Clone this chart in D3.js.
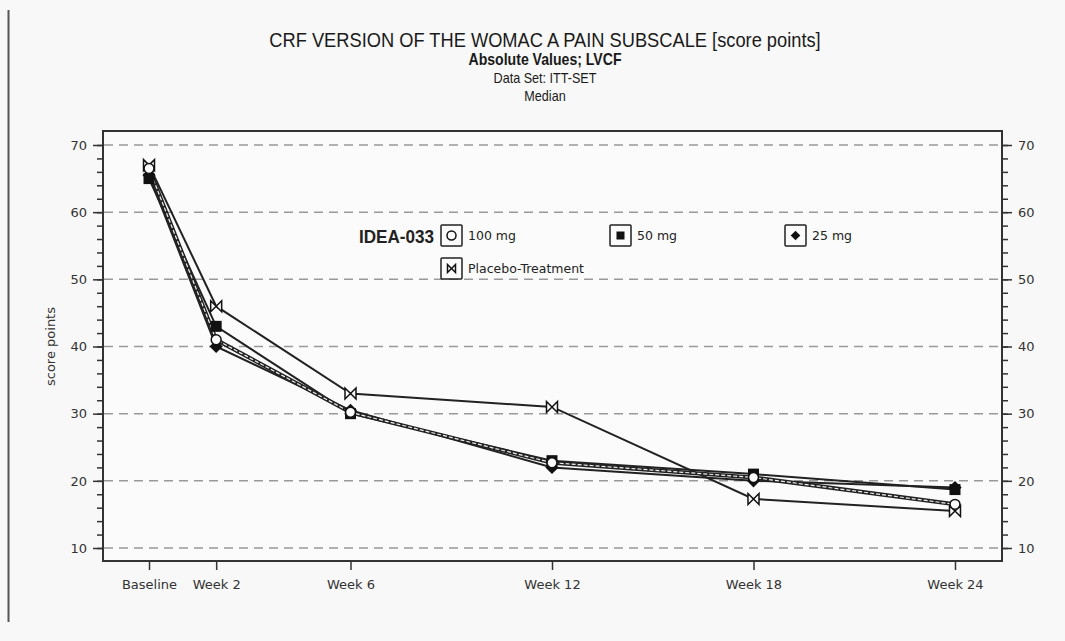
<!DOCTYPE html>
<html>
<head>
<meta charset="utf-8">
<script src="https://cdn.jsdelivr.net/npm/d3@7"></script>
<style>
  body { margin: 0; background: #f8f8f8; }
  svg { display: block; font-family: "DejaVu Sans", sans-serif; }
</style>
</head>
<body>
<script>
// visits in weeks, their labels and medians per group
var weeks = [0, 2, 6, 12, 18, 24];
var visitLabels = ["Baseline", "Week 2", "Week 6", "Week 12", "Week 18", "Week 24"];
var mg100 = [66.5, 41, 30.2, 22.7, 20.5, 16.5];
var mg50 = [65, 43, 30, 23, 21, 18.7];
var mg25 = [65.5, 40, 30.5, 22, 20, 19];
var placebo = [67, 46, 33, 31, 17.3, 15.5];
var yTicks = [10, 20, 30, 40, 50, 60, 70];

var w = 1065, h = 641,
	pl = 103, pr = 1002, pt = 131, pb = 561;

var svg = d3.select("body").append("svg")
	.attr("width", w)
	.attr("height", h);

svg.append("line")
	.attr("x1", 8.5).attr("x2", 8.5)
	.attr("y1", 10).attr("y2", 622)
	.attr("stroke", "#555").attr("stroke-width", 2);

// titles (narrow look: regular font squeezed horizontally)
var titles = [
	{ t: "CRF VERSION OF THE WOMAC A PAIN SUBSCALE [score points]", y: 47, size: 21, sx: 0.87, bold: false },
	{ t: "Absolute Values; LVCF", y: 65, size: 16, sx: 0.88, bold: true },
	{ t: "Data Set: ITT-SET", y: 83, size: 14, sx: 0.9, bold: false },
	{ t: "Median", y: 101, size: 14, sx: 0.9, bold: false }
];
titles.forEach(function(d) {
	svg.append("text")
		.attr("transform", "translate(545," + d.y + ") scale(" + d.sx + ",1)")
		.attr("text-anchor", "middle")
		.style("font-family", "'Liberation Sans', Arial, sans-serif")
		.style("font-size", d.size + "px")
		.style("font-weight", d.bold ? "bold" : "normal")
		.attr("fill", "#1a1a1a")
		.text(d.t);
});

var x = d3.scaleLinear().domain([-1.37, 25.4]).range([pl, pr]);
var y = d3.scaleLinear().domain([10, 70]).range([548, 145]);

// frame
svg.append("rect")
	.attr("x", pl).attr("y", pt)
	.attr("width", pr - pl).attr("height", pb - pt)
	.attr("fill", "#fbfbfb").attr("stroke", "#333").attr("stroke-width", 2);

// grid
svg.append("g").selectAll("line").data(yTicks).enter().append("line")
	.attr("x1", pl + 1).attr("x2", pr - 1)
	.attr("y1", d => y(d)).attr("y2", d => y(d))
	.attr("stroke", "#999").attr("stroke-width", 1.5)
	.attr("stroke-dasharray", "9,6");

var minor = d3.range(10, 70.1, 2);

svg.append("g").attr("transform", "translate(" + pl + ",0)")
	.call(d3.axisLeft(y).tickValues(minor).tickSize(6).tickFormat(""));
svg.append("g").attr("transform", "translate(" + pl + ",0)")
	.call(d3.axisLeft(y).tickValues(yTicks).tickSize(10).tickPadding(6));
svg.append("g").attr("transform", "translate(" + pr + ",0)")
	.call(d3.axisRight(y).tickValues(minor).tickSize(6).tickFormat(""));
svg.append("g").attr("transform", "translate(" + pr + ",0)")
	.call(d3.axisRight(y).tickValues(yTicks).tickSize(10).tickPadding(6));

svg.append("g").attr("transform", "translate(0," + pb + ")")
	.call(d3.axisBottom(x).tickValues(weeks).tickSize(9).tickPadding(10)
		.tickFormat((d, i) => visitLabels[i]));

svg.selectAll(".domain").remove();
svg.selectAll(".tick line").attr("stroke", "#333").attr("stroke-width", 1.5);
svg.selectAll(".tick text").attr("fill", "#333").style("font-size", "13px")
	.style("font-family", "'DejaVu Sans', sans-serif");

svg.append("text")
	.attr("transform", "translate(55," + y(40) + ") rotate(-90)")
	.attr("text-anchor", "middle")
	.style("font-size", "13px").attr("fill", "#333")
	.text("score points");

// lines
var line = d3.line().x((d, i) => x(weeks[i])).y(d => y(d));

var groups = [
	{ data: placebo, sym: "bowtie" },
	{ data: mg50, sym: "square" },
	{ data: mg25, sym: "diamond" },
	{ data: mg100, sym: "circle" }
];

groups.forEach(function(g) {
	svg.append("path").datum(g.data).attr("d", line)
		.attr("fill", "none").attr("stroke", "#222").attr("stroke-width", g.sym == "circle" ? 4 : 2);
	if (g.sym == "circle") {
		svg.append("path").datum(g.data).attr("d", line)
			.attr("fill", "none").attr("stroke", "#eee").attr("stroke-width", 1.2)
			.attr("stroke-dasharray", "4,2");
	}
});

function drawSymbol(sel, sym, cx, cy, s) {
	if (sym == "circle") {
		sel.append("circle").attr("cx", cx).attr("cy", cy).attr("r", s * 0.45)
			.attr("fill", "#fbfbfb").attr("stroke", "#111").attr("stroke-width", 1.5);
	} else if (sym == "square") {
		sel.append("rect").attr("x", cx - s / 2).attr("y", cy - s / 2)
			.attr("width", s).attr("height", s).attr("fill", "#111");
	} else if (sym == "diamond") {
		sel.append("path")
			.attr("d", "M" + cx + "," + (cy - s * 0.6) + "L" + (cx + s * 0.6) + "," + cy +
				"L" + cx + "," + (cy + s * 0.6) + "L" + (cx - s * 0.6) + "," + cy + "Z")
			.attr("fill", "#111");
	} else {
		var a = s / 2;
		sel.append("path")
			.attr("d", "M" + (cx - a) + "," + (cy - a) + "L" + (cx + a) + "," + (cy + a) +
				"L" + (cx + a) + "," + (cy - a) + "L" + (cx - a) + "," + (cy + a) + "Z")
			.attr("fill", "#fbfbfb").attr("stroke", "#111").attr("stroke-width", 1.5);
	}
}

groups.forEach(function(g) {
	var gg = svg.append("g");
	g.data.forEach(function(v, i) {
		drawSymbol(gg, g.sym, x(weeks[i]), y(v), 11);
	});
});

// legend
svg.append("text")
	.attr("transform", "translate(434,243) scale(0.9,1)")
	.attr("text-anchor", "end")
	.style("font-family", "'Liberation Sans', Arial, sans-serif")
	.style("font-size", "19px").style("font-weight", "bold")
	.attr("fill", "#222").text("IDEA-033");

var legendItems = [
	{ sym: "circle", label: "100 mg", lx: 441, ly: 225 },
	{ sym: "square", label: "50 mg", lx: 610, ly: 225 },
	{ sym: "diamond", label: "25 mg", lx: 785, ly: 225 },
	{ sym: "bowtie", label: "Placebo-Treatment", lx: 441, ly: 258 }
];
legendItems.forEach(function(d) {
	var g = svg.append("g");
	g.append("rect").attr("x", d.lx).attr("y", d.ly).attr("width", 21).attr("height", 21)
		.attr("fill", "#fbfbfb").attr("stroke", "#222").attr("stroke-width", 1.5).attr("rx", 1);
	drawSymbol(g, d.sym, d.lx + 10.5, d.ly + 10.5, d.sym == "circle" ? 10 : 8);
	g.append("text").attr("x", d.lx + 27).attr("y", d.ly + 15)
		.style("font-size", "12.5px").attr("fill", "#222").text(d.label);
});
</script>
</body>
</html>
